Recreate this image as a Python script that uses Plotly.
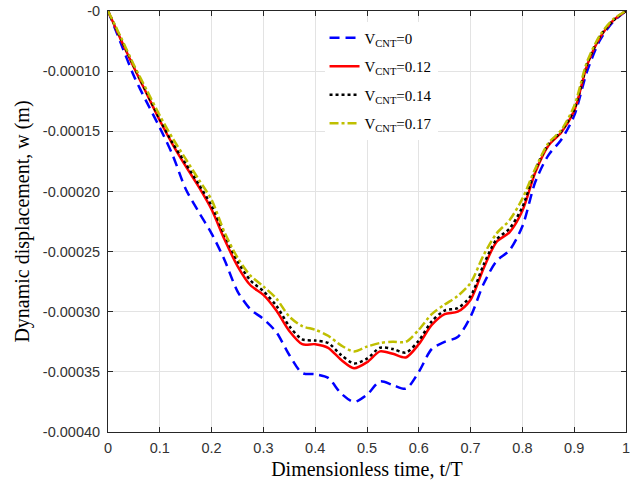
import plotly.graph_objects as go

t = [0, 0.025, 0.05, 0.075, 0.1, 0.125, 0.15, 0.175, 0.2, 0.225, 0.25, 0.275, 0.3,
     0.325, 0.35, 0.375, 0.4, 0.425, 0.45, 0.475, 0.5, 0.525, 0.55, 0.575, 0.6,
     0.625, 0.65, 0.675, 0.7, 0.725, 0.75, 0.775, 0.8, 0.825, 0.85, 0.875, 0.9,
     0.925, 0.95, 0.975, 1.0]

w_v0 = [-0.000050, -0.000077, -0.000104, -0.000126, -0.000147, -0.000170, -0.000198,
        -0.000217, -0.000235, -0.000257, -0.000283, -0.000298, -0.000306, -0.000317,
        -0.000336, -0.000351, -0.000352, -0.000355, -0.000368, -0.000375, -0.000369,
        -0.000358, -0.000361, -0.000364, -0.000350, -0.000331, -0.000325, -0.000321,
        -0.000304, -0.000277, -0.000258, -0.000249, -0.000229, -0.000192, -0.000170,
        -0.000157, -0.000137, -0.000100, -0.000074, -0.000059, -0.000050]

w_v012 = [-0.000050, -0.000074, -0.000097, -0.000119, -0.000141, -0.000161, -0.000179,
          -0.000196, -0.000215, -0.000240, -0.000262, -0.000278, -0.000286, -0.000299,
          -0.000316, -0.000327, -0.000327, -0.000330, -0.000340, -0.000347, -0.000342,
          -0.000333, -0.000335, -0.000338, -0.000327, -0.000311, -0.000302, -0.000300,
          -0.000290, -0.000264, -0.000242, -0.000234, -0.000216, -0.000184, -0.000162,
          -0.000151, -0.000133, -0.000095, -0.000072, -0.000058, -0.000050]

w_v014 = [-0.000050, -0.000073, -0.000096, -0.000118, -0.000140, -0.000160, -0.000177,
          -0.000194, -0.000212, -0.000236, -0.000258, -0.000274, -0.000283, -0.000295,
          -0.000312, -0.000323, -0.000324, -0.000326, -0.000336, -0.000343, -0.000339,
          -0.000330, -0.000331, -0.000334, -0.000324, -0.000308, -0.000299, -0.000297,
          -0.000287, -0.000261, -0.000240, -0.000231, -0.000213, -0.000182, -0.000161,
          -0.000150, -0.000132, -0.000094, -0.000071, -0.000058, -0.000050]

w_v017 = [-0.000050, -0.000072, -0.000095, -0.000116, -0.000137, -0.000156, -0.000173,
          -0.000190, -0.000207, -0.000234, -0.000255, -0.000270, -0.000279, -0.000289,
          -0.000304, -0.000312, -0.000315, -0.000320, -0.000328, -0.000333, -0.000329,
          -0.000326, -0.000325, -0.000325, -0.000315, -0.000302, -0.000294, -0.000287,
          -0.000276, -0.000253, -0.000235, -0.000224, -0.000206, -0.000181, -0.000160,
          -0.000149, -0.000129, -0.000092, -0.000070, -0.000057, -0.000050]

names = ["V<sub>CNT</sub>=0", "V<sub>CNT</sub>=0.12", "V<sub>CNT</sub>=0.14", "V<sub>CNT</sub>=0.17"]
x_ticks = [0, 0.1, 0.2, 0.3, 0.4, 0.5, 0.6, 0.7, 0.8, 0.9, 1]
x_ticktext = ["0", "0.1", "0.2", "0.3", "0.4", "0.5", "0.6", "0.7", "0.8", "0.9", "1"]
y_ticks = [-0.00005, -0.0001, -0.00015, -0.0002, -0.00025, -0.0003, -0.00035, -0.0004]
y_ticktext = ["-0", "-0.00010", "-0.00015", "-0.00020", "-0.00025", "-0.00030", "-0.00035", "-0.00040"]

series = [w_v0, w_v012, w_v014, w_v017]
colors = ["#0000ff", "#ff0000", "#000000", "#bfbf00"]
dashes = ["10px,6px", "solid", "3px,3px", "9px,3px,3px,3px"]

fig = go.Figure()
for i, (ys, nm, c, d) in enumerate(zip(series, names, colors, dashes)):
    fig.add_trace(go.Scatter(
        x=t, y=ys, name=nm, mode="lines", legendgroup=str(i),
        line=dict(color=c, width=2.5, dash=d, shape="spline", smoothing=0.8),
    ))

axis_common = dict(
    showline=True, linecolor="#262626", linewidth=1, mirror="ticks",
    ticks="inside", ticklen=5, tickcolor="#262626", tickwidth=1,
    showgrid=True, gridcolor="#e3e3e3", gridwidth=1, zeroline=False,
    automargin=False, ticklabeloverflow="allow",
    tickfont=dict(family="Liberation Sans, Arial", size=14.5, color="#333333"),
)

fig.update_xaxes(range=[0, 1], tickvals=x_ticks, ticktext=x_ticktext,
                 ticklabelstandoff=3,
                 title=dict(text="Dimensionless time, t/T",
                            font=dict(family="Liberation Serif, Times New Roman", size=20, color="#000000"),
                            standoff=6),
                 **axis_common)
fig.update_yaxes(range=[-0.0004, -0.00005], tickvals=y_ticks, ticktext=y_ticktext,
                 ticklabelstandoff=4,
                 title=dict(text="Dynamic displacement, w (m)",
                            font=dict(family="Liberation Serif, Times New Roman", size=20, color="#000000"),
                            standoff=7),
                 **axis_common)

fig.update_layout(
    width=634, height=486, autosize=False,
    margin=dict(l=108, r=8, t=11, b=54),
    paper_bgcolor="white", plot_bgcolor="white",
    showlegend=True,
    legend=dict(x=0.418, y=0.975, xanchor="left", yanchor="top",
                bgcolor="white", borderwidth=0, tracegroupgap=6,
                font=dict(family="Liberation Serif, Times New Roman", size=15, color="#000000")),
)

fig.write_html("out.html", config={"displayModeBar": False},
               post_script="document.body.style.margin='0';")
